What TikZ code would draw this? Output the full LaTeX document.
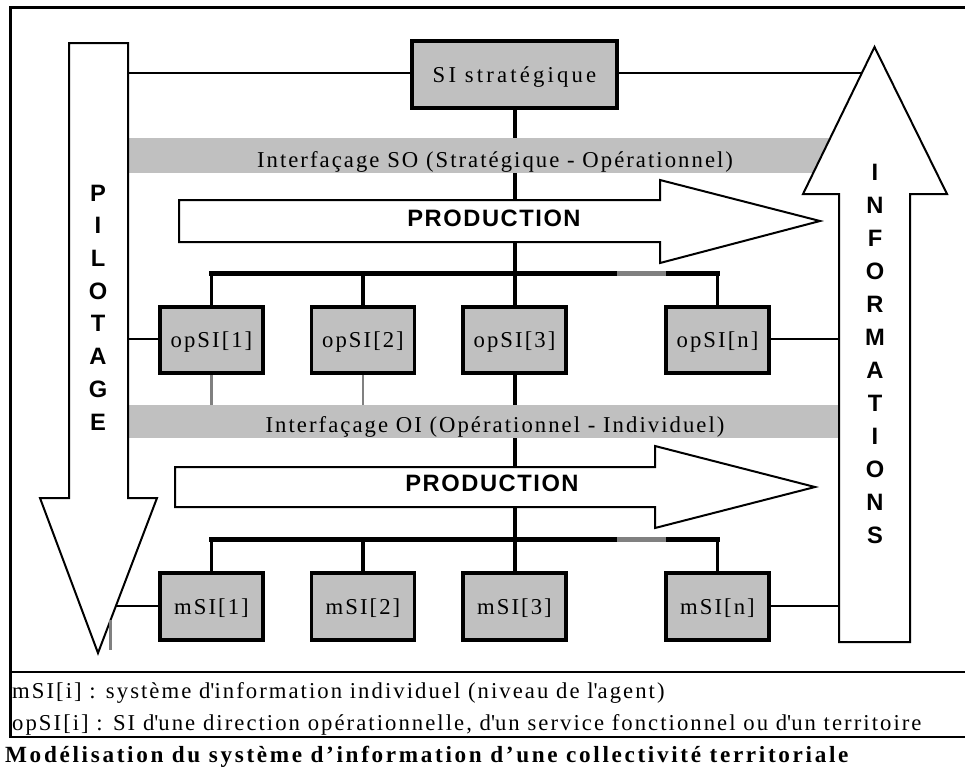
\documentclass[tikz,border=0pt]{standalone}
\usepackage{fontspec}
\setmainfont{Liberation Serif}
\newfontfamily\serA{Liberation Serif}[LetterSpace=9]
\newfontfamily\serB{Liberation Serif}[LetterSpace=14]
\newfontfamily\serT{Liberation Serif}[LetterSpace=11.5]
\newfontfamily\sanB{Liberation Sans}[LetterSpace=6.5]
\definecolor{boxgray}{HTML}{C0C0C0}
\definecolor{seggray}{HTML}{808080}
\begin{document}
\begin{tikzpicture}[x=1pt,y=-1pt,
  sibox/.style={draw=black, line width=3.5pt, fill=boxgray, inner sep=0pt,
    minimum width=103pt, minimum height=66pt, text height=15.5pt, text depth=0pt,
    font=\serA\fontsize{22.7}{26}\selectfont},
  thinline/.style={line width=2pt},
  frameline/.style={line width=2.7pt},
  trunk/.style={line width=4pt},
  busline/.style={line width=5pt, line cap=rect},
  drop/.style={line width=3.8pt, line cap=rect},
  grayline/.style={line width=2.5pt, seggray},
  graybus/.style={line width=5pt, seggray},
  arrowshape/.style={draw=black, line width=2pt, fill=white, line join=miter},
  band/.style={fill=boxgray, draw=none, inner sep=0pt},
  bandtext/.style={anchor=base, inner sep=0pt, font=\serA\fontsize{22.7}{26}\selectfont},
  prodtext/.style={inner sep=0pt, font=\sanB\bfseries\fontsize{23.7}{26}\selectfont},
  letter/.style={inner sep=0pt, font=\sanB\bfseries\fontsize{23.7}{26}\selectfont},
  legendtext/.style={anchor=base west, inner sep=0pt, font=\serA\fontsize{22.7}{26}\selectfont},
  titletext/.style={anchor=base west, inner sep=0pt, font=\serT\bfseries\fontsize{23.2}{26}\selectfont}
]
\useasboundingbox (0,0) rectangle (965,769);

% frame
\coordinate (frTL) at (10.3,7.3);
\coordinate (frTR) at (965,7.3);
\coordinate (frBL) at (10.3,737);
\coordinate (frBR) at (965,737);
\coordinate (frML) at (10.3,672);
\coordinate (frMR) at (965,672);
\draw[frameline] (frTR) -- (frTL) -- (frBL) -- (frBR);
\draw[frameline] (frML) -- (frMR);

% boxes (placed first as nodes, drawn again on top later)
\path
  (514.5,74.5) node[sibox, minimum width=205pt, minimum height=67pt, font=\serB\fontsize{22.7}{26}\selectfont] (si) {SI stratégique}
  (211.5,340) node[sibox] (opSI1) {opSI[1]}
  (363,340) node[sibox] (opSI2) {opSI[2]}
  (514.5,340) node[sibox] (opSI3) {opSI[3]}
  (717.5,340) node[sibox] (opSIn) {opSI[n]}
  (211.5,606.5) node[sibox, minimum height=67pt] (mSI1) {mSI[1]}
  (363,606.5) node[sibox, minimum height=67pt] (mSI2) {mSI[2]}
  (514.5,606.5) node[sibox, minimum height=67pt] (mSI3) {mSI[3]}
  (717.5,606.5) node[sibox, minimum height=67pt] (mSIn) {mSI[n]};

% attachment points on the big arrows
\coordinate (pilA) at (128,73);
\coordinate (infA) at (861,73);
\coordinate (pilB) at (128,339);
\coordinate (infB) at (839,339);
\coordinate (pilC) at (116,606);
\coordinate (infC) at (839,606);
\coordinate (bandOItop) at (0,405);

% thin connectors
\draw[thinline] (pilA) -- (pilA -| si.west);
\draw[thinline] (infA -| si.east) -- (infA);
\draw[thinline] (pilB) -- (pilB -| opSI1.west);
\draw[thinline] (infB -| opSIn.east) -- (infB);
\draw[thinline] (pilC) -- (pilC -| mSI1.west);
\draw[thinline] (infC -| mSIn.east) -- (infC);

% trunk
\draw[trunk] (si.south) -- (opSI3.north);
\draw[trunk] (opSI3.south) -- (mSI3.north);

% gray stubs
\draw[grayline] (opSI1.south) -- (opSI1.south |- bandOItop);
\draw[grayline] (opSI2.south) -- (opSI2.south |- bandOItop);

% bands
\node[band, minimum width=732pt, minimum height=35pt] (bandSO) at (494,155.5) {};
\node[band, minimum width=710pt, minimum height=33pt] (bandOI) at (483,421.5) {};
\node[bandtext] (bandSOtxt) at (495,167) {Interfaçage SO (Stratégique - Opérationnel)};
\node[bandtext] (bandOItxt) at (495,432) {Interfaçage OI (Opérationnel - Individuel)};

% big arrows
\draw[arrowshape] (69,43) -- (128,43) -- (128,498) -- (157,498) -- (98,653) -- (40,498) -- (69,498) -- cycle;
\draw[arrowshape] (839,642) -- (910,642) -- (910,194) -- (947,194) -- (874.5,47) -- (803,194) -- (839,194) -- cycle;
\draw[arrowshape] (179,200) -- (660,200) -- (660,180) -- (820,221) -- (660,263) -- (660,242) -- (179,242) -- cycle;
\draw[arrowshape] (175,467) -- (655,467) -- (655,446) -- (815,487) -- (655,528) -- (655,507) -- (175,507) -- cycle;

\node[prodtext] (prod1) at (494,218.5) {PRODUCTION};
\node[prodtext] (prod2) at (492,483.5) {PRODUCTION};

% buses
\coordinate (bus1) at (0,273);
\coordinate (bus1g1) at (617,273);
\coordinate (bus1g2) at (666,273);
\coordinate (bus2) at (0,539);
\coordinate (bus2g1) at (617,539);
\coordinate (bus2g2) at (666,539);
\draw[busline] (opSI1.north |- bus1) -- (opSIn.north |- bus1);
\draw[graybus] (bus1g1) -- (bus1g2);
\draw[busline] (mSI1.north |- bus2) -- (mSIn.north |- bus2);
\draw[graybus] (bus2g1) -- (bus2g2);
\foreach \n in {opSI1,opSI2,opSIn} \draw[drop] (\n.north) -- (\n.north |- bus1);
\foreach \n in {mSI1,mSI2,mSIn} \draw[drop] (\n.north) -- (\n.north |- bus2);

% small gray mark
\draw[seggray, line width=3pt] (110,620) -- (110,650);

% boxes on top
\path
  (514.5,74.5) node[sibox, minimum width=205pt, minimum height=67pt, font=\serB\fontsize{22.7}{26}\selectfont] (siTop) {SI stratégique}
  (211.5,340) node[sibox] (opSI1top) {opSI[1]}
  (363,340) node[sibox] (opSI2top) {opSI[2]}
  (514.5,340) node[sibox] (opSI3top) {opSI[3]}
  (717.5,340) node[sibox] (opSIntop) {opSI[n]}
  (211.5,606.5) node[sibox, minimum height=67pt] (mSI1top) {mSI[1]}
  (363,606.5) node[sibox, minimum height=67pt] (mSI2top) {mSI[2]}
  (514.5,606.5) node[sibox, minimum height=67pt] (mSI3top) {mSI[3]}
  (717.5,606.5) node[sibox, minimum height=67pt] (mSIntop) {mSI[n]};

% vertical letters
\foreach \l [count=\i from 0] in {P,I,L,O,T,A,G,E}
  \node[letter] (pil\i) at (98,193+\i*32.7) {\l};
\foreach \l [count=\i from 0] in {I,N,F,O,R,M,A,T,I,O,N,S}
  \node[letter] (inf\i) at (875,172+\i*33) {\l};

% legend
\node[legendtext] (leg1) at (12,698) {mSI[i] : système d\textquotesingle information individuel (niveau de l\textquotesingle agent)};
\node[legendtext] (leg2) at (12,730) {opSI[i] : SI d\textquotesingle une direction opérationnelle, d\textquotesingle un service fonctionnel ou d\textquotesingle un territoire};
\node[titletext] (title) at (5,762) {Modélisation du système d’information d’une collectivité territoriale};
\end{tikzpicture}
\end{document}
